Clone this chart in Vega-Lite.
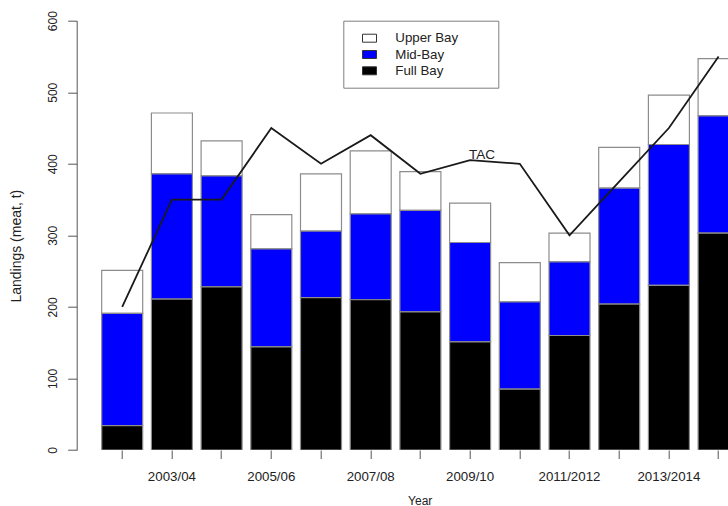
{
  "$schema": "https://vega.github.io/schema/vega-lite/v6.json",
  "width": 651.3,
  "height": 429.3,
  "autosize": {"type": "none"},
  "padding": {"left": 76.7, "top": 20.7, "right": 0, "bottom": 56},
  "background": "white",
  "config": {
    "font": "Liberation Sans",
    "view": {"stroke": null},
    "axis": {"grid": false, "titleFontWeight": "normal"}
  },
  "data": {
    "values": [
      {"year": "2002/03", "Full Bay": 34, "Mid-Bay": 157, "Upper Bay": 60, "tac": 200},
      {"year": "2003/04", "Full Bay": 211, "Mid-Bay": 175, "Upper Bay": 85, "tac": 350},
      {"year": "2004/05", "Full Bay": 228, "Mid-Bay": 155, "Upper Bay": 49, "tac": 350},
      {"year": "2005/06", "Full Bay": 144, "Mid-Bay": 137, "Upper Bay": 48, "tac": 450},
      {"year": "2006/07", "Full Bay": 213, "Mid-Bay": 93, "Upper Bay": 80, "tac": 400},
      {"year": "2007/08", "Full Bay": 210, "Mid-Bay": 120, "Upper Bay": 88, "tac": 440},
      {"year": "2008/09", "Full Bay": 193, "Mid-Bay": 142, "Upper Bay": 54, "tac": 386},
      {"year": "2009/10", "Full Bay": 151, "Mid-Bay": 139, "Upper Bay": 55, "tac": 405},
      {"year": "2010/2011", "Full Bay": 85, "Mid-Bay": 122, "Upper Bay": 55, "tac": 400},
      {"year": "2011/2012", "Full Bay": 160, "Mid-Bay": 103, "Upper Bay": 40, "tac": 300},
      {"year": "2012/2013", "Full Bay": 204, "Mid-Bay": 162, "Upper Bay": 57, "tac": 375},
      {"year": "2013/2014", "Full Bay": 230, "Mid-Bay": 197, "Upper Bay": 69, "tac": 450},
      {"year": "2014/2015", "Full Bay": 303, "Mid-Bay": 164, "Upper Bay": 80, "tac": 550}
    ]
  },
  "layer": [
    {
      "transform": [
        {"fold": ["Upper Bay", "Mid-Bay", "Full Bay"], "as": ["area", "landings"]}
      ],
      "mark": {"type": "bar", "stroke": "#8c8c8c", "strokeWidth": 1.2, "clip": true},
      "encoding": {
        "x": {
          "field": "year",
          "type": "nominal",
          "sort": null,
          "scale": {"range": [0, 687.4], "paddingInner": 0.175, "paddingOuter": 0.503},
          "axis": {
            "title": "Year",
            "titleFontSize": 12,
            "titleColor": "#222",
            "titleX": 343,
            "titleY": 50,
            "titleAlign": "center",
            "titleBaseline": "middle",
            "domain": false,
            "tickSize": 8.5,
            "tickColor": "#555",
            "labelAngle": 0,
            "labelFontSize": 13.3,
            "labelColor": "#222",
            "labelPadding": 11,
            "labelExpr": "indexof(['2003/04', '2005/06', '2007/08', '2009/10', '2011/2012', '2013/2014'], datum.value) >= 0 ? datum.value : ''"
          }
        },
        "y": {
          "field": "landings",
          "type": "quantitative",
          "stack": "zero",
          "scale": {"domain": [0, 600], "nice": false},
          "axis": {
            "title": "Landings (meat, t)",
            "titleFontSize": 14,
            "titleColor": "#222",
            "titleX": -60,
            "titleY": 225,
            "titleAlign": "center",
            "titleBaseline": "middle",
            "values": [0, 100, 200, 300, 400, 500, 600],
            "domainColor": "#555",
            "tickColor": "#555",
            "tickSize": 9,
            "labelAngle": -90,
            "labelAlign": "center",
            "labelBaseline": "bottom",
            "labelFontSize": 12,
            "labelColor": "#222",
            "labelPadding": 8
          }
        },
        "color": {
          "field": "area",
          "type": "nominal",
          "scale": {
            "domain": ["Upper Bay", "Mid-Bay", "Full Bay"],
            "range": ["#ffffff", "#0000ff", "#000000"]
          },
          "legend": {
            "title": null,
            "orient": "none",
            "legendX": 266.6,
            "legendY": 0,
            "direction": "vertical",
            "strokeColor": "#7f7f7f",
            "fillColor": "white",
            "padding": 10,
            "symbolType": "M-1,-0.57H1V0.57H-1Z",
            "symbolSize": 196,
            "symbolStrokeColor": "#333",
            "symbolStrokeWidth": 1,
            "symbolOffset": 8.7,
            "labelOffset": 18.3,
            "labelFontSize": 13.3,
            "labelColor": "#222",
            "rowPadding": 2.3,
            "labelExpr": "datum.label + '\u2003\u2003\u2009\u200b'"
          }
        },
        "order": {"field": "area", "sort": "ascending"}
      }
    },
    {
      "mark": {"type": "line", "color": "#1a1a1a", "strokeWidth": 1.8, "clip": true},
      "encoding": {
        "x": {"field": "year", "type": "nominal", "sort": null},
        "y": {"field": "tac", "type": "quantitative"}
      }
    },
    {
      "transform": [{"filter": "datum.year === '2009/10'"}],
      "mark": {
        "type": "text",
        "text": "TAC",
        "fontSize": 13.5,
        "color": "#222",
        "align": "center",
        "baseline": "alphabetic",
        "dx": 12,
        "dy": -1
      },
      "encoding": {
        "x": {"field": "year", "type": "nominal", "sort": null},
        "y": {"field": "tac", "type": "quantitative"}
      }
    }
  ]
}
